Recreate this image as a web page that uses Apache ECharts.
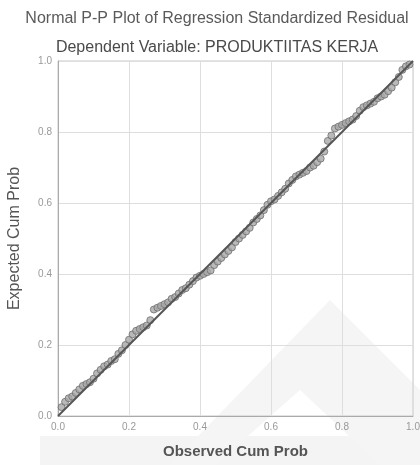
<!DOCTYPE html>
<html><head><meta charset="utf-8">
<script src="https://cdn.jsdelivr.net/npm/echarts@6/dist/echarts.min.js"></script>
<style>html,body{margin:0;padding:0;background:#fff}#c{width:420px;height:465px}</style>
</head><body><div id="c"></div>
<script>
var titleText = "Normal P-P Plot of Regression Standardized Residual";
var subtitleText = "Dependent Variable: PRODUKTIITAS KERJA";
var xAxisName = "Observed Cum Prob";
var yAxisName = "Expected Cum Prob";
var tickValues = [0.0, 0.2, 0.4, 0.6, 0.8, 1.0];
var observed = [0.01,0.02,0.03,0.04,0.05,0.06,0.07,0.08,0.09,0.10,
0.11,0.12,0.13,0.14,0.15,0.16,0.17,0.18,0.19,0.20,
0.21,0.22,0.23,0.24,0.25,0.26,0.27,0.28,0.29,0.30,
0.31,0.32,0.33,0.34,0.35,0.36,0.37,0.38,0.39,0.40,
0.41,0.42,0.43,0.44,0.45,0.46,0.47,0.48,0.49,0.50,
0.51,0.52,0.53,0.54,0.55,0.56,0.57,0.58,0.59,0.60,
0.61,0.62,0.63,0.64,0.65,0.66,0.67,0.68,0.69,0.70,
0.71,0.72,0.73,0.74,0.75,0.76,0.77,0.78,0.79,0.80,
0.81,0.82,0.83,0.84,0.85,0.86,0.87,0.88,0.89,0.90,
0.91,0.92,0.93,0.94,0.95,0.96,0.97,0.98,0.99];
var expected = [0.025,0.04,0.05,0.055,0.065,0.075,0.085,0.09,0.095,0.105,
0.12,0.13,0.14,0.145,0.155,0.16,0.175,0.185,0.20,0.215,
0.23,0.24,0.245,0.25,0.255,0.27,0.30,0.305,0.31,0.315,
0.32,0.33,0.335,0.345,0.355,0.36,0.37,0.38,0.39,0.395,
0.40,0.405,0.41,0.425,0.435,0.445,0.455,0.465,0.475,0.49,
0.50,0.51,0.52,0.53,0.545,0.555,0.565,0.58,0.595,0.605,
0.61,0.62,0.63,0.64,0.655,0.665,0.675,0.68,0.685,0.69,
0.70,0.705,0.715,0.725,0.745,0.775,0.79,0.81,0.815,0.82,
0.825,0.83,0.835,0.845,0.86,0.87,0.875,0.88,0.885,0.895,
0.90,0.905,0.915,0.925,0.94,0.955,0.975,0.985,0.99];
var refLine = [[0, 0], [1, 1]];

var pts = observed.map(function(o, i){ return [o, expected[i]]; });
var chart = echarts.init(document.getElementById('c'), null, {renderer:'canvas'});
chart.setOption({
  backgroundColor: '#ffffff',
  animation: false,
  graphic: [
    {type:'polygon', z:-10, silent:true, shape:{points:[[330,300],[440,410],[440,465],[380,465],[300,390],[215,465],[170,465]]}, style:{fill:'#f5f5f5'}},
    {type:'rect', z:-11, silent:true, shape:{x:40,y:436,width:380,height:29}, style:{fill:'#f4f4f4'}}
  ],
  title: [
    {text: titleText, left: 212, textAlign:'center', top: 6, textStyle:{fontFamily:'Liberation Sans, Arial', fontSize:16, fontWeight:'normal', color:'#5a5a5a'}},
    {text: subtitleText, left: 212, textAlign:'center', top: 35, textStyle:{fontFamily:'Liberation Sans, Arial', fontSize:16, fontWeight:'normal', color:'#4a4a4a'}}
  ],
  grid: {left:58, right:7, top:61, bottom:49, outerBoundsMode:'none', containLabel:false, show:true, borderColor:'#c8c8c8', borderWidth:1, backgroundColor:'transparent'},
  xAxis: {
    type:'value', min:0, max:1, interval:0.2,
    name: xAxisName, nameLocation:'middle', nameGap:28,
    nameTextStyle:{fontFamily:'Liberation Sans, Arial', fontSize:15, fontWeight:'bold', color:'#555'},
    axisLine:{show:true, lineStyle:{color:'#aaa'}},
    axisTick:{show:false},
    axisLabel:{fontFamily:'Liberation Sans, Arial', fontSize:10, color:'#999', margin:6, formatter:function(v){return v.toFixed(1);}},
    splitLine:{show:true, lineStyle:{color:'#dedede'}}
  },
  yAxis: {
    type:'value', min:0, max:1, interval:0.2,
    name: yAxisName, nameLocation:'middle', nameGap:35, nameRotate:90,
    nameTextStyle:{fontFamily:'Liberation Sans, Arial', fontSize:16, color:'#555'},
    axisLine:{show:true, lineStyle:{color:'#aaa'}},
    axisTick:{show:false},
    axisLabel:{fontFamily:'Liberation Sans, Arial', fontSize:10, color:'#999', margin:6, formatter:function(v){return v.toFixed(1);}},
    splitLine:{show:true, lineStyle:{color:'#dedede'}}
  },
  series: [
    {type:'scatter', data: pts, symbol:'circle', symbolSize:7,
     itemStyle:{color:'#a8a8a8', borderColor:'#6e6e6e', borderWidth:1}, z:2},
    {type:'line', data: refLine, symbol:'none', lineStyle:{color:'#555', width:2}, z:3}
  ]
});
</script></body></html>
